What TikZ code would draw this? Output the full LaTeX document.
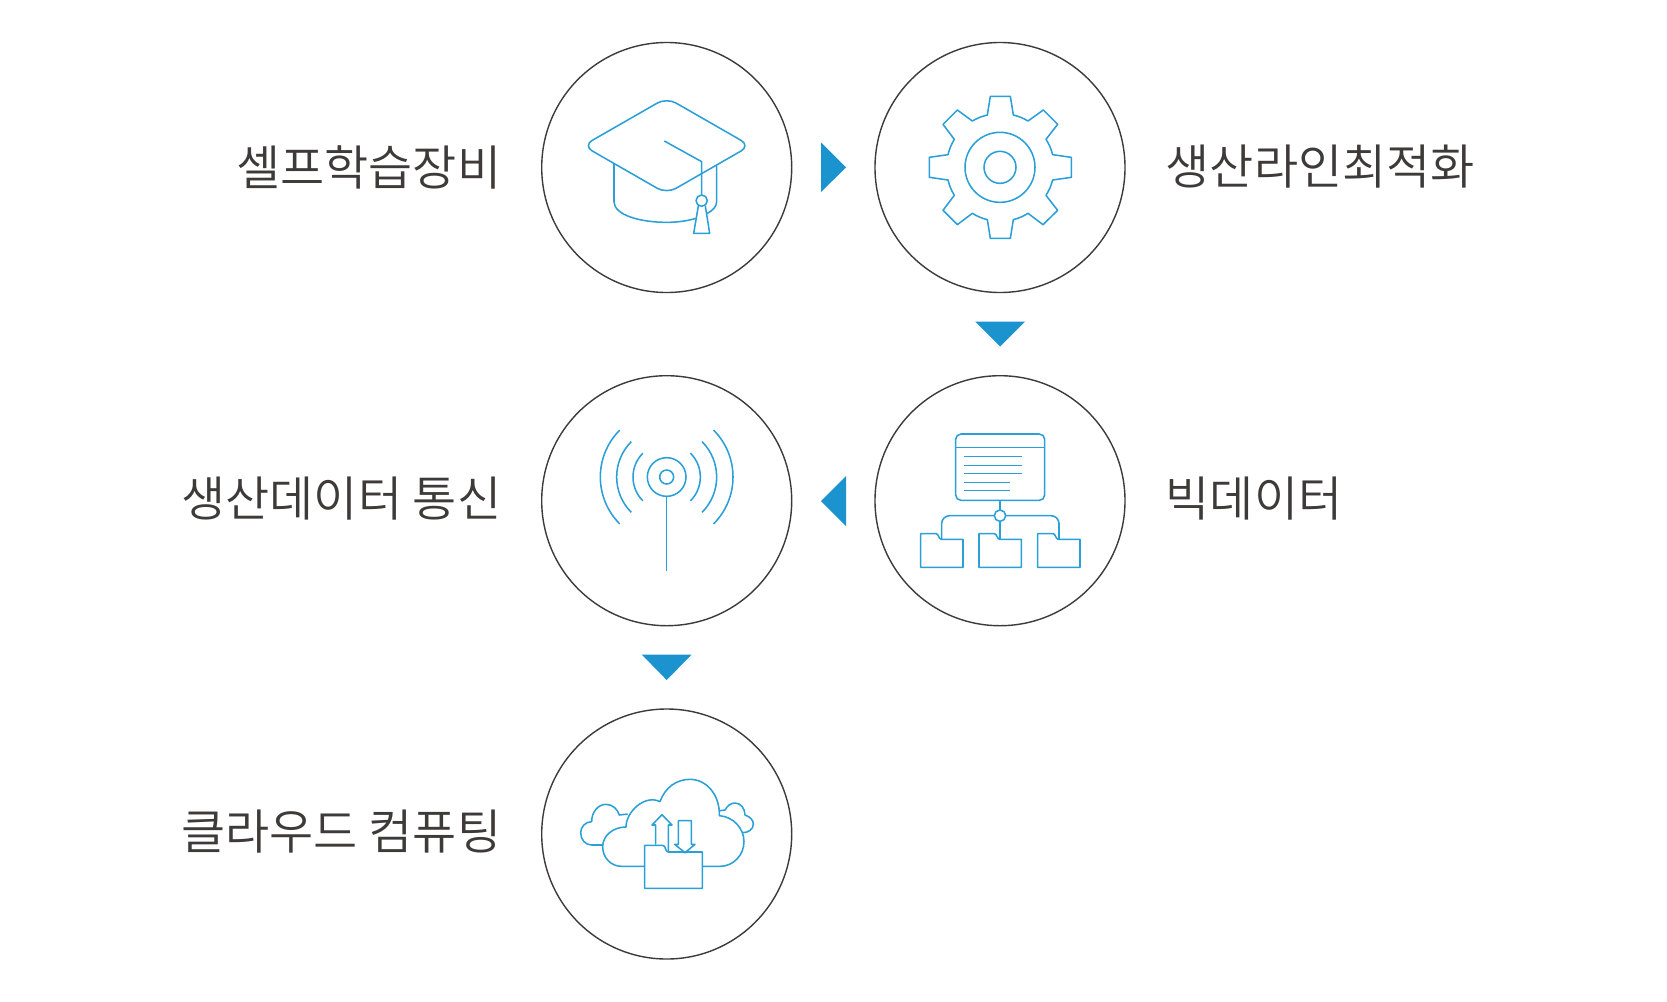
\documentclass[tikz,border=0pt]{standalone}
\usepackage{fontspec}
\newfontfamily\kr{Noto Sans CJK KR DemiLight}
\definecolor{ink}{HTML}{3E3A39}
\definecolor{iconblue}{HTML}{2A9FD8}
\definecolor{triblue}{HTML}{1A93CF}
\tikzset{
  ring/.style={circle,draw=ink,line width=1.05pt,minimum size=187.5pt,inner sep=0pt,outer sep=0pt},
  icon/.style={draw=iconblue,line width=1.15pt,line join=round},
  tri/.style={fill=triblue,draw=none},
  lab/.style={font=\kr\fontsize{36pt}{40pt}\selectfont,text=ink,inner sep=0pt},
}
\begin{document}
\begin{tikzpicture}[x=0.75pt,y=-0.75pt]
\useasboundingbox (0,0) rectangle (1667,1001);
\fill[white] (0,0) rectangle (1667,1001);
\node[ring] (c1) at (666.7,167.5) {};
\node[ring] (c2) at (1000,167.5) {};
\node[ring] (c3) at (1000,500.7) {};
\node[ring] (c4) at (666.7,500.7) {};
\node[ring] (c5) at (666.7,834) {};
\node[lab,anchor=east] (l1) at (501.5,167) {셀프학습장비};
\node[lab,anchor=west] (l2) at (1165.5,167) {생산라인최적화};
\node[lab,anchor=west] (l3) at (1165.5,499) {빅데이터};
\node[lab,anchor=east] (l4) at (501.5,499) {생산데이터 통신};
\node[lab,anchor=east] (l5) at (501.5,832) {클라우드 컴퓨팅};
% triangles
\fill[tri] (821,142.5) -- (846,167.5) -- (821,192) -- cycle;
\fill[tri] (975,321.5) -- (1025,321.5) -- (1000,346.5) -- cycle;
\fill[tri] (846,476) -- (821,501) -- (846,526) -- cycle;
\fill[tri] (641.7,654.5) -- (691.7,654.5) -- (666.7,680) -- cycle;
% cap
\begin{scope}[shift={(530,30)},scale=1/3]
\draw[icon,rounded corners=8pt] (410,203) -- (661,347) -- (410,491) -- (159,347) -- cycle;
\draw[icon] (252,402) -- (252,515) .. controls (252,555) and (330,577) .. (410,577) .. controls (445,577) and (475,572) .. (497,565);
\draw[icon] (560,408) -- (560,515) .. controls (560,530) and (548,542) .. (530,551);
\draw[icon] (403,333) -- (515,395) -- (515,495);
\draw[icon] (515,512) circle[radius=17];
\draw[icon] (505,528) -- (491,610) -- (539,610) -- (526,528);
\end{scope}
% gear
\begin{scope}[shift={(870,30)},scale=1/3]
\draw[icon] (361,199) -- (421,199) -- (430,255) to[bend left=8] (474,273) -- (520,240) -- (563,283) -- (528,328) to[bend left=8] (548,374) -- (604,382) -- (604,442) -- (548,450) to[bend left=8] (528,496) -- (563,541) -- (519,584) -- (474,550) to[bend left=8] (430,569) -- (421,625) -- (361,625) -- (352,569) to[bend left=8] (307,550) -- (262,584) -- (219,541) -- (253,496) to[bend left=8] (234,450) -- (178,442) -- (178,382) -- (234,374) to[bend left=8] (253,328) -- (219,283) -- (262,240) -- (307,273) to[bend left=8] (352,255) -- cycle;
\draw[icon] (390,412) circle[radius=105];
\draw[icon] (390,412) circle[radius=48];
\end{scope}
% big data
\begin{scope}[shift={(870,370)},scale=1/3]
\draw[icon,rounded corners=4pt] (257,192) rectangle (524,391);
\draw[icon] (257,232) -- (524,232);
\foreach \yy in {260,286,311} \draw[icon] (283,\yy) -- (455,\yy);
\foreach \yy in {337,362} \draw[icon] (283,\yy) -- (420,\yy);
\draw[icon] (390,391) -- (390,420);
\draw[icon] (390,437) circle[radius=17];
\draw[icon,rounded corners=6pt] (373,437) -- (215,437) -- (215,508);
\draw[icon,rounded corners=6pt] (407,437) -- (567,437) -- (567,508);
\draw[icon] (390,454) -- (390,508);
\foreach \xx in {152,327,503}
  \draw[icon] (\xx,491) -- (\xx+46,491) .. controls (\xx+54,491) and (\xx+54,508) .. (\xx+62,508) -- (\xx+127,508) -- (\xx+127,592) -- (\xx,592) -- cycle;
\end{scope}
% antenna
\begin{scope}[shift={(530,370)},scale=1/3]
\draw[icon] (410,321) circle[radius=58];
\draw[icon] (410,321) circle[radius=21];
\draw[icon] (410,379) -- (410,604);
\foreach \rr in {101,150,199} {
  \draw[icon] (410,321) ++(-45:\rr) arc[start angle=-45,end angle=45,radius=\rr];
  \draw[icon] (410,321) ++(135:\rr) arc[start angle=135,end angle=225,radius=\rr];
}
\end{scope}
% cloud
\begin{scope}[shift={(530,700)},scale=1/3]
\draw[icon] (343,499) -- (275,499) .. controls (242,499) and (218,472) .. (218,440) .. controls (218,408) and (248,381) .. (288,381) .. controls (288,335) and (345,282) .. (390,305) .. controls (405,262) and (440,238) .. (480,238) .. controls (530,238) and (570,285) .. (568,347) .. controls (610,350) and (642,385) .. (642,425) .. controls (642,465) and (610,499) .. (570,499) -- (518,499);
\draw[icon] (218,435) -- (185,435) .. controls (165,435) and (152,418) .. (152,398) .. controls (152,380) and (167,365) .. (185,365) .. controls (185,335) and (205,313) .. (228,313) .. controls (248,313) and (263,328) .. (268,345) -- (293,342);
\draw[icon] (570,332) -- (585,330) .. controls (592,317) and (603,309) .. (615,309) .. controls (632,309) and (645,325) .. (645,345) .. controls (660,350) and (670,360) .. (670,372) .. controls (670,388) and (655,398) .. (638,398);
\draw[icon] (344,436) -- (398,436) .. controls (408,436) and (405,456) .. (415,456) -- (517,456) -- (517,565) -- (344,565) -- cycle;
\draw[icon] (377,434) -- (377,375) -- (366,375) -- (396,344) -- (426,375) -- (415,375) -- (415,454);
\draw[icon] (445,433) -- (445,362) -- (484,362) -- (484,433) -- (495,433) -- (465,458) -- (434,433) -- cycle;
\end{scope}
\end{tikzpicture}
\end{document}
